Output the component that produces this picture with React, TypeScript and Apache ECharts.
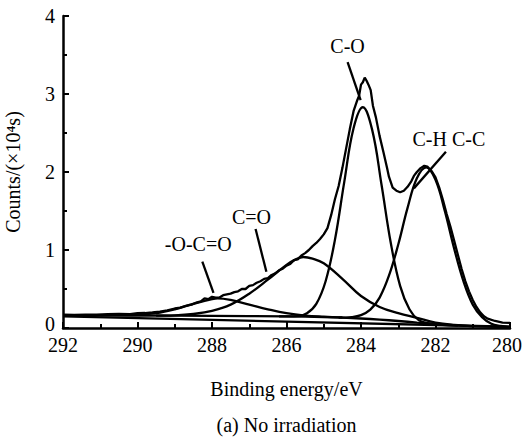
import React, { useEffect, useRef } from "react";
import * as echarts from "echarts";

// Binding energy (eV) → counts (×10^4 s)
const rawSpectrum: [number, number][] = [
  [292.0, 0.17], [291.7, 0.168], [291.4, 0.172], [291.1, 0.17], [290.8, 0.176], [290.5, 0.18],
  [290.2, 0.178], [290.0, 0.19], [289.8, 0.192], [289.6, 0.2], [289.4, 0.21], [289.2, 0.225],
  [289.0, 0.25], [288.85, 0.262], [288.7, 0.285], [288.55, 0.3], [288.4, 0.33], [288.3, 0.34],
  [288.2, 0.38], [288.1, 0.37], [288.0, 0.4], [287.9, 0.39], [287.8, 0.39], [287.7, 0.42],
  [287.6, 0.43], [287.5, 0.44], [287.4, 0.46], [287.3, 0.47], [287.2, 0.5], [287.1, 0.5],
  [287.0, 0.54], [286.9, 0.55], [286.8, 0.58], [286.7, 0.6], [286.6, 0.63], [286.5, 0.64],
  [286.4, 0.68], [286.3, 0.7], [286.2, 0.74], [286.1, 0.76], [286.0, 0.8], [285.9, 0.82],
  [285.8, 0.87], [285.7, 0.88], [285.6, 0.93], [285.5, 0.96], [285.4, 1.0], [285.3, 1.05],
  [285.2, 1.09], [285.1, 1.14], [285.0, 1.2], [284.9, 1.28], [284.8, 1.45], [284.7, 1.65],
  [284.6, 1.82], [284.5, 2.05], [284.4, 2.3], [284.3, 2.55], [284.2, 2.78], [284.1, 2.92],
  [284.05, 2.98], [284.0, 3.12], [283.95, 3.15], [283.9, 3.21], [283.85, 3.17], [283.8, 3.12],
  [283.74, 3.05], [283.68, 2.85], [283.6, 2.7], [283.5, 2.46], [283.4, 2.26], [283.3, 2.05],
  [283.25, 1.94], [283.15, 1.8], [283.05, 1.76], [282.95, 1.74], [282.85, 1.76], [282.75, 1.81],
  [282.65, 1.88], [282.58, 1.95], [282.5, 2.0], [282.4, 2.05], [282.3, 2.08], [282.22, 2.07],
  [282.1, 2.01], [282.0, 1.93], [281.9, 1.8], [281.8, 1.64], [281.7, 1.46], [281.6, 1.3],
  [281.5, 1.12], [281.4, 0.94], [281.3, 0.76], [281.2, 0.6], [281.1, 0.47], [281.0, 0.36],
  [280.9, 0.27], [280.8, 0.2], [280.7, 0.15], [280.6, 0.12], [280.4, 0.09], [280.2, 0.07],
  [280.0, 0.065],
];

const peakCO: [number, number][] = [
  [286.2, 0.148], [285.7, 0.152], [285.45, 0.19], [285.2, 0.31], [284.95, 0.6], [284.7, 1.13],
  [284.45, 1.87], [284.2, 2.56], [283.95, 2.83], [283.7, 2.54], [283.45, 1.84], [283.2, 1.09],
  [282.95, 0.54], [282.7, 0.24], [282.45, 0.1], [282.2, 0.06], [281.8, 0.04], [281.4, 0.03],
];

const peakCHCC: [number, number][] = [
  [284.6, 0.133], [284.25, 0.14], [284.0, 0.165], [283.75, 0.235], [283.5, 0.39], [283.25, 0.67],
  [283.0, 1.07], [282.75, 1.54], [282.5, 1.92], [282.25, 2.06], [282.0, 1.9], [281.75, 1.5],
  [281.5, 1.02], [281.25, 0.6], [281.0, 0.3], [280.75, 0.14], [280.5, 0.055], [280.25, 0.026],
  [280.0, 0.012],
];

const peakCdO: [number, number][] = [
  [289.5, 0.158], [289.0, 0.162], [288.5, 0.18], [288.0, 0.22], [287.5, 0.3], [287.0, 0.44],
  [286.5, 0.62], [286.0, 0.81], [285.75, 0.88], [285.55, 0.91], [285.3, 0.89], [285.0, 0.83],
  [284.5, 0.63], [284.0, 0.41], [283.5, 0.27], [283.0, 0.19], [282.5, 0.13], [282.0, 0.07],
  [281.5, 0.04], [281.0, 0.025],
];

const peakOCdO: [number, number][] = [
  [291.0, 0.163], [290.5, 0.165], [290.0, 0.17], [289.5, 0.19], [289.0, 0.24], [288.5, 0.31],
  [288.0, 0.37], [287.85, 0.38], [287.5, 0.36], [287.0, 0.3], [286.5, 0.24], [286.0, 0.19],
  [285.5, 0.16], [285.0, 0.145], [284.5, 0.135],
];

const background: [number, number][] = [
  [292.0, 0.165], [290.0, 0.16], [288.0, 0.155], [286.0, 0.148], [285.0, 0.14], [284.5, 0.133],
  [284.0, 0.122], [283.5, 0.108], [283.0, 0.09], [282.5, 0.07], [282.0, 0.052], [281.5, 0.036],
  [281.0, 0.025], [280.5, 0.018], [280.0, 0.013],
];

const linearBase: [number, number][] = [
  [292.0, 0.148], [280.0, 0.016],
];

// annotation texts and leader lines, in data coordinates
const annotations = [
  { text: "C-O", at: [284.36, 3.62], from: [284.36, 3.41], to: [284.01, 2.92] },
  { text: "C-H C-C", at: [281.64, 2.42], from: [281.72, 2.26], to: [282.58, 1.79] },
  { text: "C=O", at: [286.94, 1.42], from: [286.83, 1.27], to: [286.54, 0.72] },
  { text: "-O-C=O", at: [288.37, 1.08], from: [288.26, 0.85], to: [287.96, 0.45] },
];

const FONT = "'Liberation Serif', 'Times New Roman', serif";

function lineSeries(data: [number, number][], smooth: boolean | number) {
  return {
    type: "line",
    data,
    smooth,
    showSymbol: false,
    symbol: "none",
    silent: true,
    lineStyle: { color: "#000", width: 2.3 },
  };
}

export default function App() {
  const ref = useRef<HTMLDivElement>(null);
  useEffect(() => {
    if (!ref.current) return;
    const chart = echarts.init(ref.current, undefined, { renderer: "svg" });
    chart.setOption({
      animation: false,
      backgroundColor: "#fff",
      grid: { left: 63, right: 13, top: 16, bottom: 111, outerBoundsMode: "none" },
      xAxis: {
        type: "value",
        min: 280,
        max: 292,
        interval: 2,
        inverse: true,
        name: "Binding energy/eV",
        nameLocation: "middle",
        nameGap: 51,
        nameTextStyle: { fontFamily: FONT, fontSize: 20, color: "#000" },
        axisLine: { show: true, onZero: false, lineStyle: { color: "#000", width: 2.5 } },
        axisTick: { show: true, inside: true, length: 6, lineStyle: { color: "#000", width: 2 } },
        minorTick: { show: true, splitNumber: 2, length: 4, lineStyle: { color: "#000", width: 2 } },
        splitLine: { show: false },
        minorSplitLine: { show: false },
        axisLabel: {
          fontFamily: FONT,
          fontSize: 20,
          color: "#000",
          margin: 7,
          formatter: (v: number) => (v === 280 ? "{end|280}" : String(v)),
          rich: { end: { fontFamily: FONT, fontSize: 20, color: "#000", padding: [0, 6, 0, 0] } },
        },
      },
      yAxis: {
        type: "value",
        min: 0,
        max: 4,
        interval: 1,
        name: "Counts/(×10⁴s)",
        nameLocation: "middle",
        nameGap: 40,
        nameRotate: 90,
        nameTextStyle: { fontFamily: FONT, fontSize: 20, color: "#000" },
        axisLine: { show: true, onZero: false, lineStyle: { color: "#000", width: 2.5 } },
        axisTick: { show: true, inside: true, length: 6, lineStyle: { color: "#000", width: 2 } },
        minorTick: { show: true, splitNumber: 2, length: 4, lineStyle: { color: "#000", width: 2 } },
        splitLine: { show: false },
        minorSplitLine: { show: false },
        axisLabel: {
          fontFamily: FONT,
          fontSize: 20,
          color: "#000",
          margin: 8,
          formatter: (v: number) => (v === 0 ? "{zero|0}" : String(v)),
          rich: { zero: { fontFamily: FONT, fontSize: 20, color: "#000", padding: [0, 0, 8, 0] } },
        },
      },
      series: [
        lineSeries(background, 0.3),
        lineSeries(linearBase, false),
        lineSeries(peakOCdO, 0.4),
        lineSeries(peakCdO, 0.4),
        lineSeries(peakCO, 0.4),
        lineSeries(peakCHCC, 0.4),
        lineSeries(rawSpectrum, false),
      ],
    });

    const px = (p: number[]) => chart.convertToPixel({ gridIndex: 0 }, p) as number[];
    const elements: any[] = [];
    annotations.forEach((a) => {
      const t = px(a.at);
      const f = px(a.from);
      const e = px(a.to);
      elements.push({
        type: "text",
        x: t[0],
        y: t[1],
        silent: true,
        style: {
          text: a.text,
          fontFamily: FONT,
          fontSize: 20,
          fill: "#000",
          textAlign: "center",
          textVerticalAlign: "middle",
        },
      });
      elements.push({
        type: "line",
        silent: true,
        shape: { x1: f[0], y1: f[1], x2: e[0], y2: e[1] },
        style: { stroke: "#000", lineWidth: 2.3 },
      });
    });
    const gridLeft = px([292, 0]);
    const gridRight = px([280, 0]);
    elements.push({
      type: "text",
      x: (gridLeft[0] + gridRight[0]) / 2,
      y: 425,
      silent: true,
      style: {
        text: "(a) No irradiation",
        fontFamily: FONT,
        fontSize: 20,
        fill: "#000",
        textAlign: "center",
        textVerticalAlign: "middle",
      },
    });
    chart.setOption({ graphic: { elements } });

    return () => chart.dispose();
  }, []);

  return (
    <div
      ref={ref}
      style={{ position: "absolute", left: 0, top: 0, width: 523, height: 439, background: "#fff" }}
    />
  );
}
